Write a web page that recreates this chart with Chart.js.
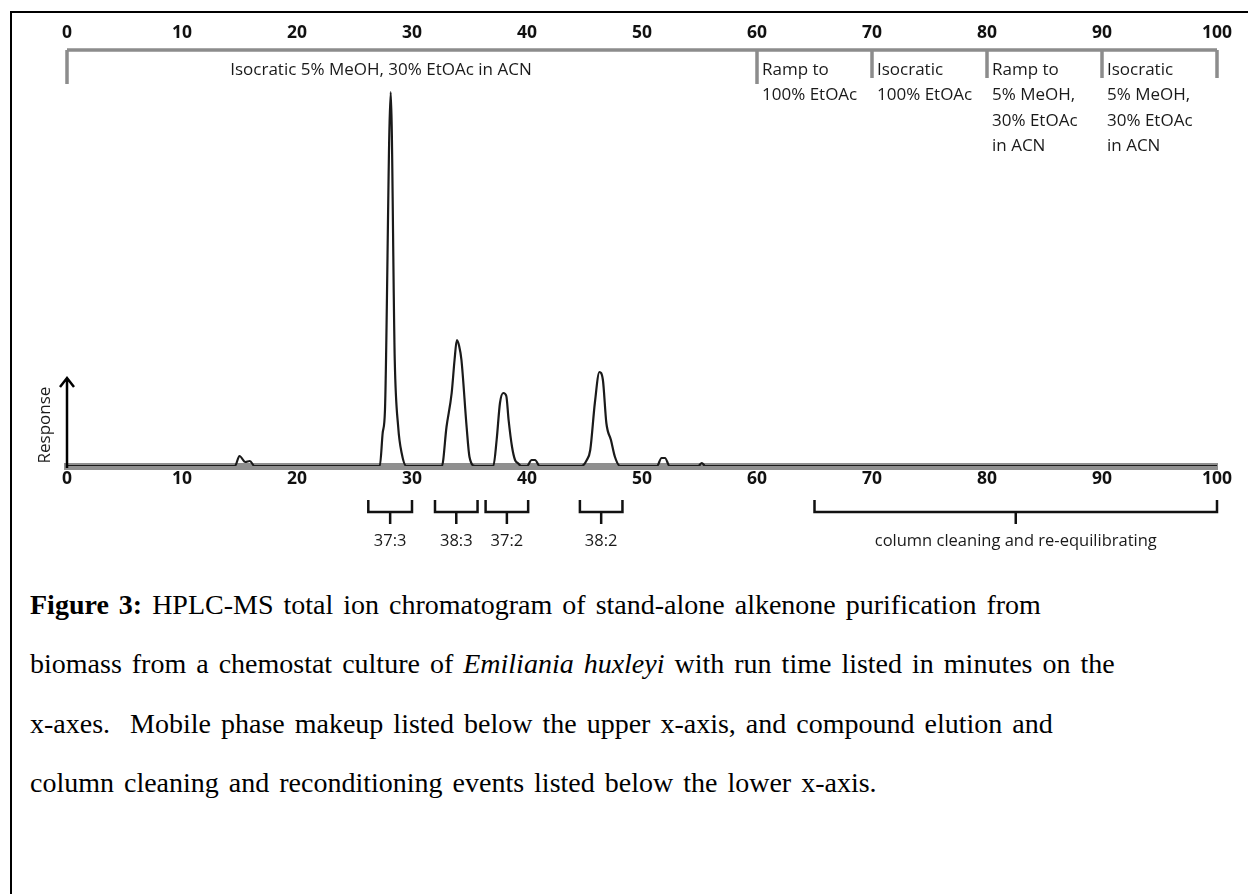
<!DOCTYPE html>
<html>
<head>
<meta charset="utf-8">
<script src="https://cdn.jsdelivr.net/npm/chart.js@4.4.1/dist/chart.umd.min.js"></script>
<style>
  body { margin: 0; background: #fff; }
  #wrap { position: relative; width: 1248px; height: 894px; overflow: hidden; }
  #frame { position: absolute; left: 10px; top: 11px; width: 1300px; height: 1000px; border-left: 2px solid #000; border-top: 2px solid #000; }
  canvas { position: absolute; left: 0; top: 0; }
  .cap { position: absolute; left: 30px; font-family: "Liberation Serif", "Times New Roman", serif; font-size: 28px; line-height: 30px; color: #000; white-space: nowrap; word-spacing: 3px; }
</style>
</head>
<body>
<div id="wrap">
  <div id="frame"></div>
  <canvas id="chart" width="1248" height="560"></canvas>
  <div class="cap" style="top:590px"><b>Figure 3:</b> HPLC-MS total ion chromatogram of stand-alone alkenone purification from</div>
  <div class="cap" style="top:649px">biomass from a chemostat culture of <i>Emiliania huxleyi</i> with run time listed in minutes on the</div>
  <div class="cap" style="top:709px">x-axes.&nbsp; Mobile phase makeup listed below the upper x-axis, and compound elution and</div>
  <div class="cap" style="top:768px">column cleaning and reconditioning events listed below the lower x-axis.</div>
</div>

<script>
// run time (min) and detector response (arbitrary units)
let times = [0, 14.6, 15.0, 15.5, 15.9, 16.3,
  27.2, 27.45, 27.65, 28.15, 28.5, 28.8, 29.1, 29.5,
  32.6, 33.0, 33.45, 33.7, 33.9, 34.1, 34.3, 34.75, 35.0, 35.5,
  37.07, 37.36, 37.65, 37.94, 38.2, 38.4, 38.7, 38.96, 39.2, 39.5,
  40.0, 40.4, 40.7, 41.1,
  44.75, 45.2, 45.5, 45.9, 46.3, 46.6, 46.9, 47.3, 47.65, 48.1,
  51.3, 51.7, 52.0, 52.4,
  54.9, 55.2, 55.5, 100];
let response = [0, 0, 10, 4, 5, 0,
  0, 33, 56, 374, 106, 39, 13, 0,
  0, 39, 73, 106, 126, 120, 106, 39, 9, 0,
  0, 26, 63, 73, 70, 46, 19, 6, 3, 0,
  0, 6, 6, 0,
  0, 6, 16, 63, 94, 86, 43, 26, 9, 0,
  0, 8, 8, 0,
  0, 3, 0, 0];

// mobile phase program (top axis)
let phaseStart = [0, 60, 70, 80, 90];
let phaseEnd = [60, 70, 80, 90, 100];
let phaseLabels = [
  ["Isocratic 5% MeOH, 30% EtOAc in ACN"],
  ["Ramp to", "100% EtOAc"],
  ["Isocratic", "100% EtOAc"],
  ["Ramp to", "5% MeOH,", "30% EtOAc", "in ACN"],
  ["Isocratic", "5% MeOH,", "30% EtOAc", "in ACN"]
];

// elution windows (bottom axis)
let eventStart = [26.2, 32.0, 36.4, 44.6, 65];
let eventEnd = [30.0, 35.7, 40.1, 48.3, 100];
let eventLabels = ["37:3", "38:3", "37:2", "38:2", "column cleaning and re-equilibrating"];

const FONT = "'Open Sans', 'Noto Sans', sans-serif";

const overlay = {
  id: "overlay",
  afterDraw(chart) {
    let ctx = chart.ctx;
    let xs = chart.scales.x;
    let ys = chart.scales.y;
    ctx.save();

    // grey brackets under the top axis
    ctx.strokeStyle = "#8c8c8c";
    ctx.lineWidth = 3.5;
    ctx.beginPath();
    ctx.moveTo(xs.getPixelForValue(0), 50);
    ctx.lineTo(xs.getPixelForValue(100), 50);
    let bounds = phaseStart.concat([phaseEnd[phaseEnd.length - 1]]);
    bounds.forEach((b, i) => {
      let px = xs.getPixelForValue(b);
      ctx.moveTo(px, 50);
      ctx.lineTo(px, i <= 1 ? 84 : 78);
    });
    ctx.stroke();

    ctx.fillStyle = "#1a1a1a";
    ctx.font = "17px " + FONT;
    ctx.textBaseline = "middle";
    phaseLabels.forEach((lines, i) => {
      lines.forEach((txt, j) => {
        if (i === 0) {
          ctx.textAlign = "center";
          ctx.fillText(txt, xs.getPixelForValue(27.3), 70);
        } else {
          ctx.textAlign = "left";
          ctx.fillText(txt, xs.getPixelForValue(phaseStart[i]) + 5, 70 + j * 25.5);
        }
      });
    });

    // response arrow
    let x0 = xs.getPixelForValue(0);
    let yb = ys.getPixelForValue(0);
    let yt = ys.getPixelForValue(88);
    ctx.strokeStyle = "#000";
    ctx.lineWidth = 2.5;
    ctx.beginPath();
    ctx.moveTo(x0, yb + 2);
    ctx.lineTo(x0, yt);
    ctx.moveTo(x0 - 7, yt + 9);
    ctx.lineTo(x0, yt);
    ctx.lineTo(x0 + 7, yt + 9);
    ctx.stroke();

    ctx.save();
    ctx.translate(45, 425);
    ctx.rotate(-Math.PI / 2);
    ctx.textAlign = "center";
    ctx.fillText("Response", 0, 0);
    ctx.restore();

    // black brackets under the bottom axis
    ctx.strokeStyle = "#111";
    ctx.lineWidth = 2.5;
    ctx.font = "16.5px " + FONT;
    eventStart.forEach((s, i) => {
      let a = xs.getPixelForValue(s);
      let b = xs.getPixelForValue(eventEnd[i]);
      let m = (a + b) / 2;
      ctx.beginPath();
      ctx.moveTo(a, 500);
      ctx.lineTo(a, 512);
      ctx.lineTo(b, 512);
      ctx.lineTo(b, 500);
      ctx.moveTo(m, 512);
      ctx.lineTo(m, 524);
      ctx.stroke();
      ctx.textAlign = "center";
      ctx.fillText(eventLabels[i], m, 541);
    });
    ctx.restore();
  }
};

new Chart(document.getElementById("chart"), {
  type: "line",
  data: {
    datasets: [{
      data: times.map((t, i) => ({ x: t, y: response[i] })),
      borderColor: "#1a1a1a",
      borderWidth: 2.2,
      pointRadius: 0,
      cubicInterpolationMode: "monotone",
      fill: false
    }]
  },
  options: {
    responsive: false,
    animation: false,
    layout: { padding: { left: 67, right: 31, top: 24, bottom: 64 } },
    plugins: { legend: { display: false }, tooltip: { enabled: false } },
    scales: {
      x: {
        type: "linear", position: "bottom", min: 0, max: 100,
        ticks: { stepSize: 10, padding: 3, color: "#111", font: { family: FONT, size: 17.5, weight: "bold" } },
        grid: { display: false, drawTicks: false },
        border: { display: true, color: "#8f8f8f", width: 7 },
        afterFit(s) { s.height = 30; s.paddingLeft = 0; s.paddingRight = 0; }
      },
      x2: {
        type: "linear", position: "top", min: 0, max: 100,
        ticks: { stepSize: 10, padding: 42, color: "#111", font: { family: FONT, size: 17.5, weight: "bold" } },
        grid: { display: false, drawTicks: false },
        border: { display: false },
        afterFit(s) { s.height = 62; s.paddingLeft = 0; s.paddingRight = 0; }
      },
      y: { display: false, min: 0, max: 380 }
    }
  },
  plugins: [overlay]
});
</script>
</body>
</html>
